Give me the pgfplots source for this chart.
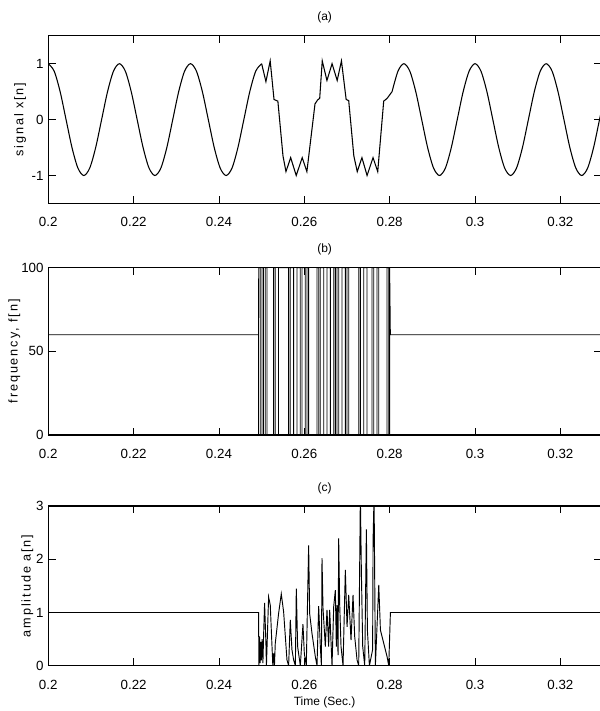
\documentclass[border=0pt]{standalone}
\usepackage{fontspec}
\setmainfont{Liberation Sans}
\newfontfamily\lblfont[LetterSpace=15]{Liberation Sans}
\usepackage{pgfplots}
\pgfplotsset{compat=1.18}

\pgfplotsset{
  mlab/.style={
    scale only axis,
    width=414.5pt,
    xmin=0.2, xmax=0.3295,
    xtick={0.2,0.22,0.24,0.26,0.28,0.3,0.32},
    xticklabels={0.2,0.22,0.24,0.26,0.28,0.3,0.32},
    tick align=inside,
    tick pos=both,
    ticklabel pos=left,
    major tick length=5.5pt,
    tick style={black, line width=0.6pt},
    axis line style={line width=0.9pt},
    every tick label/.append style={font=\fontsize{10}{12}\selectfont},
    xticklabel style={yshift=-7pt},
    title style={at={(0.5,1)}, anchor=center, yshift=7.5pt, font=\fontsize{9}{11}\selectfont},
    every axis y label/.style={at={(axis description cs:0,0.5)}, anchor=center, rotate=90,
      font=\lblfont\fontsize{9.5}{11}\selectfont},
  }
}

\begin{document}
\begin{tikzpicture}
\useasboundingbox (0,0) rectangle (450pt,-533.25pt);

% (a) signal
\begin{axis}[mlab, at={(36.2pt,-26.8pt)}, anchor=north west, height=125.8pt,
    ymin=-1.5, ymax=1.5, ytick={-1,0,1}, yticklabels={-1,0,1},
    title={(a)}, ylabel={signal x[n]}, ylabel style={yshift=21.2pt}]
\addplot[black, line width=0.8pt, smooth] coordinates {
 (0.20000,1) (0.20139,0.866) (0.20278,0.5) (0.20417,0) (0.20556,-0.5) (0.20694,-0.866)
 (0.20833,-1) (0.20972,-0.866) (0.21111,-0.5) (0.21250,0) (0.21389,0.5) (0.21528,0.866)
 (0.21667,1) (0.21806,0.866) (0.21944,0.5) (0.22083,0) (0.22222,-0.5) (0.22361,-0.866)
 (0.22500,-1) (0.22639,-0.866) (0.22778,-0.5) (0.22917,0) (0.23056,0.5) (0.23194,0.866)
 (0.23333,1) (0.23472,0.866) (0.23611,0.5) (0.23750,0) (0.23889,-0.5) (0.24028,-0.866)
 (0.24167,-1) (0.24306,-0.866) (0.24444,-0.5) (0.24583,0) (0.24722,0.5) (0.24861,0.866)
 (0.25000,1)
};
\addplot[black, line width=0.8pt] coordinates {
 (0.25000,1) (0.25100,0.68) (0.25200,1.05) (0.25290,0.36) (0.25380,0.33) (0.25500,-0.65)
 (0.25570,-0.93) (0.25680,-0.68) (0.25810,-1.0) (0.25950,-0.68) (0.26060,-0.93)
 (0.26250,0.28) (0.26310,0.35) (0.26360,0.38) (0.26420,1.05) (0.26530,0.70) (0.26650,1.00)
 (0.26770,0.70) (0.26870,1.05) (0.26980,0.36) (0.27040,0.34) (0.27160,-0.65) (0.27240,-0.93)
 (0.27350,-0.68) (0.27470,-1.0) (0.27610,-0.68) (0.27720,-0.93) (0.27860,0.33) (0.27940,0.38)
 (0.28056,0.5)
};
\addplot[black, line width=0.8pt, smooth] coordinates {
 (0.28056,0.5) (0.28194,0.866) (0.28333,1) (0.28472,0.866) (0.28611,0.5) (0.28750,0)
 (0.28889,-0.5) (0.29028,-0.866) (0.29167,-1) (0.29306,-0.866) (0.29444,-0.5) (0.29583,0)
 (0.29722,0.5) (0.29861,0.866) (0.30000,1) (0.30139,0.866) (0.30278,0.5) (0.30417,0)
 (0.30556,-0.5) (0.30694,-0.866) (0.30833,-1) (0.30972,-0.866) (0.31111,-0.5) (0.31250,0)
 (0.31389,0.5) (0.31528,0.866) (0.31667,1) (0.31806,0.866) (0.31944,0.5) (0.32083,0)
 (0.32222,-0.5) (0.32361,-0.866) (0.32500,-1) (0.32639,-0.866) (0.32778,-0.5) (0.32917,0)
 (0.33056,0.5)
};
\end{axis}

% (b) frequency
\begin{axis}[mlab, at={(36.2pt,-200.8pt)}, anchor=north west, height=125.5pt,
    ymin=0, ymax=100, ytick={0,50,100}, yticklabels={0,50,100},
    title={(b)}, ylabel={frequency, f[n]}, ylabel style={yshift=25.5pt}]
\addplot[black, line width=0.6pt] coordinates {
 (0.2,60) (0.24925,60) (0.24925,0) (0.24930,100)
 (0.24967,100) (0.24967,0) (0.25006,0) (0.25006,100) (0.25045,100) (0.25045,0)
 (0.25084,0) (0.25084,100) (0.25124,100) (0.25124,0) (0.25280,0) (0.25280,100)
 (0.25319,100) (0.25319,0) (0.25397,0) (0.25397,100) (0.25632,100) (0.25632,0)
 (0.25671,0) (0.25671,100) (0.25749,100) (0.25749,0) (0.25827,0) (0.25827,100)
 (0.25906,100) (0.25906,0) (0.25945,0) (0.25945,100) (0.26023,100) (0.26023,0)
 (0.26062,0) (0.26062,100) (0.26101,100) (0.26101,0) (0.26297,0) (0.26297,100)
 (0.26336,100) (0.26336,0) (0.26375,0) (0.26375,100) (0.26453,100) (0.26453,0)
 (0.26531,0) (0.26531,100) (0.26610,100) (0.26610,0) (0.26688,0) (0.26688,100)
 (0.26727,100) (0.26727,0) (0.26766,0) (0.26766,100) (0.26805,100) (0.26805,0)
 (0.26883,0) (0.26883,100) (0.26962,100) (0.26962,0) (0.27001,0) (0.27001,100)
 (0.27040,100) (0.27040,0) (0.27274,0) (0.27274,100) (0.27313,100) (0.27313,0)
 (0.27392,0) (0.27392,100) (0.27470,100) (0.27470,0) (0.27587,0) (0.27587,100)
 (0.27626,100) (0.27626,0) (0.27705,0) (0.27705,100) (0.27744,100) (0.27744,0)
 (0.27939,0) (0.27939,100) (0.27978,100) (0.27978,0) (0.28000,0) (0.28000,100)
 (0.28017,60) (0.3295,60)
};
\end{axis}

% (c) amplitude
\begin{axis}[mlab, at={(36.2pt,-379.5pt)}, anchor=north west, height=119.8pt,
    ymin=0, ymax=3, ytick={0,1,2,3}, yticklabels={0,1,2,3},
    title={(c)}, ylabel={amplitude a[n]}, ylabel style={yshift=15.6pt},
    xlabel={Time (Sec.)},
    xlabel style={at={(axis description cs:0.5,0)}, anchor=center, yshift=-27.5pt,
      font=\fontsize{9}{11}\selectfont}]
\addplot[black, line width=0.7pt] coordinates {
 (0.2,1) (0.24928,1) (0.24935,0) (0.24950,0.55) (0.24962,0.05) (0.24980,0.45) (0.24995,0.1)
 (0.25010,0.5) (0.25030,0.05) (0.25045,0.55) (0.25069,1.18) (0.25100,0.42) (0.25112,0)
 (0.25163,1.29) (0.25202,1.14) (0.25241,0.39) (0.25262,0) (0.25280,0.23) (0.25300,0)
 (0.25319,0.42) (0.25397,0.98) (0.25460,1.35) (0.25515,1.01) (0.25593,0.11) (0.25632,0)
 (0.25671,0.86) (0.25710,0.30) (0.25749,0.11) (0.25790,0) (0.25812,1.45) (0.25843,0.36)
 (0.25906,0) (0.25968,0.78) (0.26000,0.23) (0.26046,0) (0.26101,2.26) (0.26125,0.98)
 (0.26179,0.61) (0.26258,0.17) (0.26297,0) (0.26336,1.12) (0.26375,0.36) (0.26400,0)
 (0.26414,2.02) (0.26438,1.08) (0.26492,0.36) (0.26531,1.05) (0.26570,0.36) (0.26594,1.05)
 (0.26649,0) (0.26688,1.11) (0.26727,1.42) (0.26750,0.36) (0.26766,1.14) (0.26790,0.2)
 (0.26805,2.39) (0.26828,1.17) (0.26860,0.36) (0.26907,0) (0.26961,1.80) (0.27001,0.73)
 (0.27040,1.33) (0.27094,0.48) (0.27141,1.33) (0.27180,0.55) (0.27235,0.11) (0.27274,0)
 (0.27313,3.2) (0.27337,1.75) (0.27368,0.36) (0.27415,0) (0.27454,2.56) (0.27478,0.67)
 (0.27525,0) (0.27600,0.3) (0.27611,2.36) (0.27634,3.2) (0.27665,0) (0.27744,1.52)
 (0.27783,0.67) (0.27861,0.42) (0.27939,0.17) (0.27978,0) (0.28017,1) (0.3295,1)
};
\end{axis}
\end{tikzpicture}
\end{document}
